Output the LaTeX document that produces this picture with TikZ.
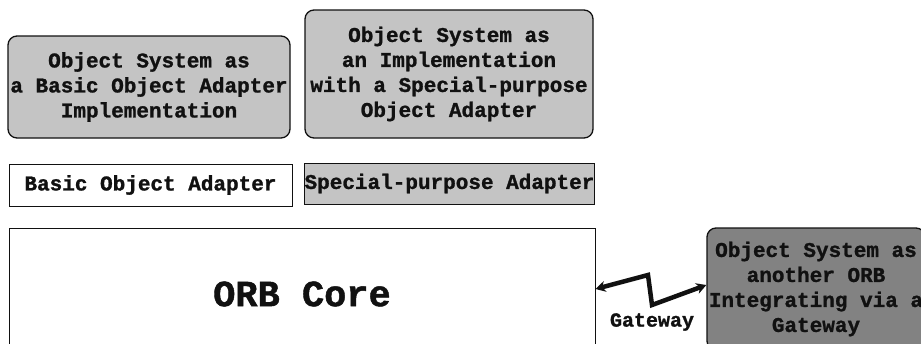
\documentclass[tikz,border=0pt]{standalone}
\usepackage{fontspec}
\setmonofont{Liberation Mono}[BoldFeatures={FakeBold=1.2}]
\usetikzlibrary{arrows.meta}
\definecolor{obink}{HTML}{111111}
\definecolor{oblight}{HTML}{C4C4C4}
\definecolor{obdark}{HTML}{828282}
\tikzset{
  ob text/.style={font=\ttfamily\bfseries\fontsize{21}{25}\selectfont, text=obink},
  ob panel/.style={draw=obink, line width=1.3pt, rounded corners=9pt, fill=oblight,
    align=center, inner sep=0pt},
  ob plain/.style={draw=obink, line width=1pt, fill=white, align=center, inner sep=0pt},
  ob shade/.style={ob plain, fill=oblight},
  ob remote/.style={ob panel, fill=obdark},
  ob core/.style={ob plain, font=\ttfamily\bfseries\fontsize{37}{40}\selectfont},
  ob link/.style={{Stealth[length=10pt,width=11pt]}-{Stealth[length=10pt,width=11pt]},
    line width=4.5pt, draw=obink, line cap=butt, line join=miter},
  ob label/.style={font=\ttfamily\bfseries\fontsize{20}{24}\selectfont, text=obink}
}

\begin{document}
\begin{tikzpicture}[ob text, x=1pt, y=-1pt]
  \useasboundingbox (0,0) rectangle (921,343);
  \clip (0,0) rectangle (921,343);
  % object systems
  \node[ob panel, minimum width=282pt, minimum height=102pt] (basicsys) at (149,87)
    {Object System as\\a Basic Object Adapter\\Implementation};
  \node[ob panel, minimum width=288pt, minimum height=128pt] (specsys) at (449,74)
    {Object System as\\an Implementation\\with a Special-purpose\\Object Adapter};
  % adapters
  \node[ob plain, minimum width=283pt, minimum height=42pt] (boa) at (150.5,185)
    {Basic Object Adapter};
  \node[ob shade, minimum width=289pt, minimum height=41pt] (spa) at (449.5,183.5)
    {Special-purpose Adapter};
  % core and the other ORB
  \node[ob core, minimum width=586pt, minimum height=132pt] (orb) at (302,294) {ORB Core};
  \node[ob remote, minimum width=218pt, minimum height=122pt] (remote) at (816,289)
    {Object System as\\another ORB\\Integrating via a\\Gateway};
  \node[ob label] (gwlabel) at (652,322) {Gateway};
  \draw[ob link] (orb.east |- 0,289) -- (648,275) -- (652,305) -- (remote.west |- 0,285);
\end{tikzpicture}
\end{document}
